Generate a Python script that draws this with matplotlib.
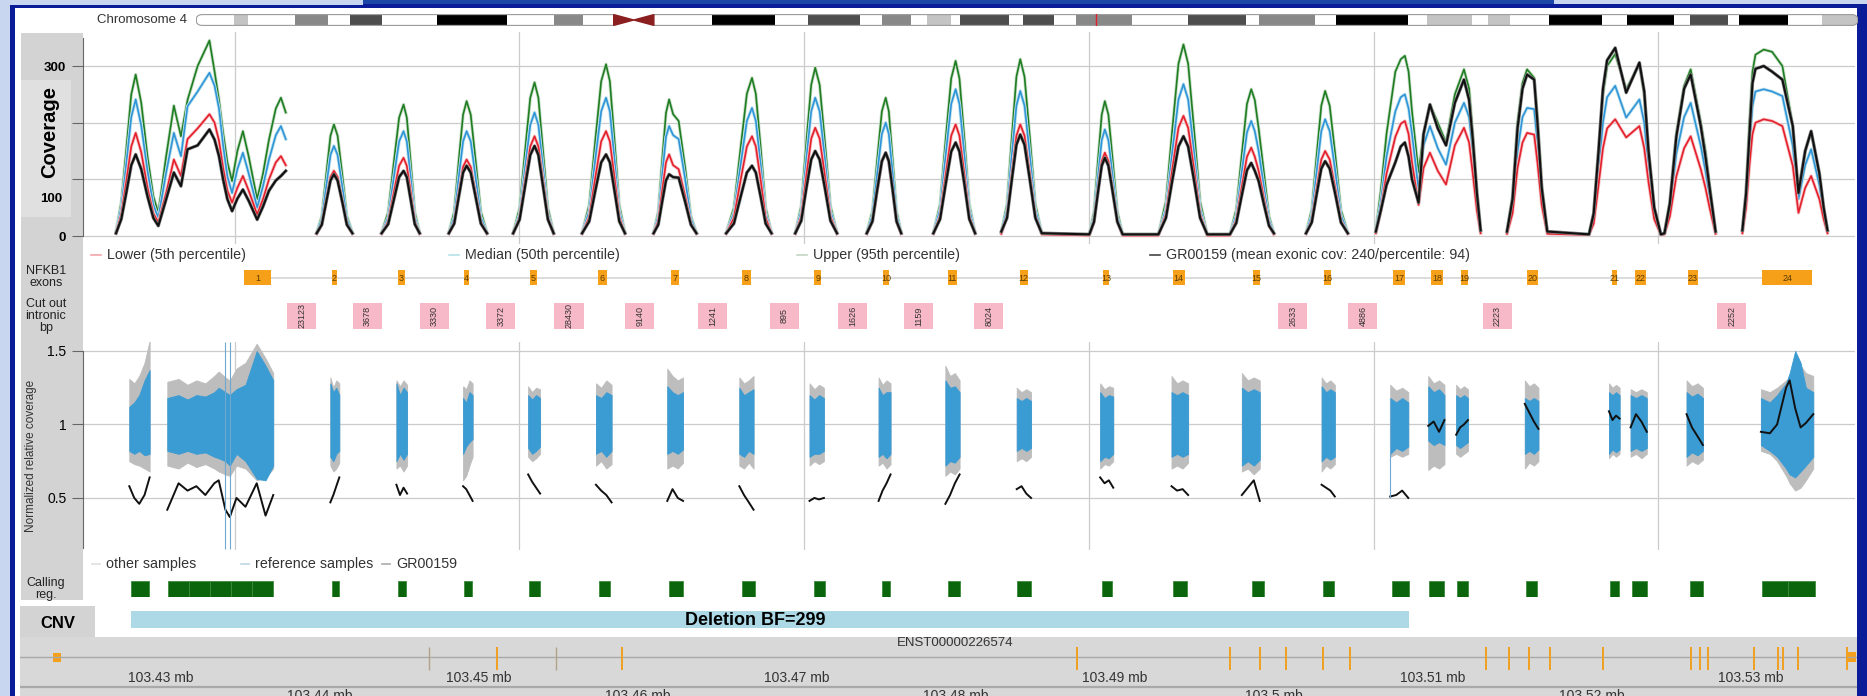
import matplotlib
matplotlib.use('Agg')
import matplotlib.pyplot as plt
from matplotlib.patches import Rectangle, Polygon, FancyBboxPatch

W, H = 1867, 696
plt.rcParams['font.family'] = ['Liberation Sans', 'DejaVu Sans']

# ---------------- chromosome 4 ideogram (Mb) ----------------
chrom_len = 190.2
band_start = [4.35, 11.3, 17.6, 27.6, 41.0, 59.1, 70.0, 78.5, 83.7, 87.4, 94.6, 100.7,
              113.5, 121.6, 130.5, 140.9, 147.9, 154.8, 163.8, 171.0, 176.6, 186.1]
band_end = [5.95, 15.1, 21.3, 35.6, 44.3, 66.3, 76.0, 81.8, 86.4, 93.0, 98.2, 107.1,
            120.2, 128.1, 138.7, 146.0, 150.4, 160.9, 169.1, 175.3, 182.2, 190.2]
band_stain = ['gpos25', 'gpos50', 'gpos75', 'gpos100', 'gpos50', 'gpos100', 'gpos75', 'gpos50',
              'gpos25', 'gpos75', 'gpos75', 'gpos50', 'gpos75', 'gpos50', 'gpos100', 'gpos25',
              'gpos25', 'gpos100', 'gpos100', 'gpos75', 'gpos100', 'gpos25']
centromere = [47.8, 52.4]
locus_mb = 103.0

# ---------------- coverage (compressed exonic coordinate, kb) ----------------
cov_x = [
    [1.168, 1.205, 1.239, 1.275, 1.306, 1.345, 1.389, 1.430, 1.465, 1.520, 1.574, 1.624, 1.670, 1.741, 1.824,
     1.860, 1.891, 1.920, 1.950, 1.983, 2.020, 2.059, 2.100, 2.159, 2.200, 2.242, 2.290, 2.326, 2.360],
    [2.577, 2.613, 2.644, 2.674, 2.698, 2.724, 2.757, 2.789, 2.828],
    [3.033, 3.079, 3.118, 3.156, 3.187, 3.210, 3.238, 3.266, 3.300],
    [3.505, 3.543, 3.574, 3.605, 3.630, 3.659, 3.694, 3.730, 3.773],
    [3.957, 4.002, 4.040, 4.077, 4.107, 4.134, 4.167, 4.201, 4.241],
    [4.441, 4.491, 4.533, 4.575, 4.609, 4.636, 4.669, 4.702, 4.742],
    [4.943, 4.976, 5.003, 5.030, 5.052, 5.080, 5.119, 5.165, 5.205, 5.244],
    [5.453, 5.507, 5.553, 5.598, 5.634, 5.661, 5.696, 5.730, 5.771],
    [5.938, 5.980, 6.015, 6.050, 6.078, 6.109, 6.147, 6.185, 6.231],
    [6.440, 6.480, 6.513, 6.546, 6.573, 6.595, 6.622, 6.649, 6.682],
    [6.908, 6.955, 6.994, 7.033, 7.064, 7.091, 7.126, 7.160, 7.201],
    [7.385, 7.425, 7.458, 7.491, 7.518, 7.548, 7.586, 7.624, 7.669,
     8.003, 8.036, 8.063, 8.090, 8.112, 8.137, 8.168, 8.200, 8.237,
     8.488, 8.541, 8.585, 8.629, 8.664, 8.697, 8.739, 8.781, 8.831,
     8.990, 9.035, 9.073, 9.110, 9.140, 9.165, 9.192, 9.230, 9.265, 9.299],
    [9.525, 9.565, 9.599, 9.632, 9.659, 9.691, 9.731, 9.770, 9.818],
    [10.015, 10.050, 10.090, 10.152, 10.190, 10.219, 10.245, 10.269, 10.315, 10.350, 10.395, 10.450,
     10.508, 10.570, 10.634, 10.670, 10.696, 10.725, 10.751],
    [10.936, 10.975, 11.010, 11.045, 11.077, 11.127, 11.150, 11.180, 11.219,
     11.512, 11.545, 11.579, 11.610, 11.639, 11.696, 11.773, 11.866, 11.900, 11.930, 11.970, 12.017,
     12.042, 12.080, 12.125, 12.180, 12.226, 12.297, 12.330, 12.359, 12.401],
    [12.589, 12.615, 12.639, 12.660, 12.681, 12.739, 12.798, 12.870, 12.943, 12.983, 13.030, 13.072,
     13.130, 13.160, 13.187],
]
cov_upper = [
    [8, 60, 150, 250, 285, 235, 140, 70, 41, 141, 230, 176, 240, 300, 345, 290, 240, 182, 130, 97, 150, 185,
     140, 65, 110, 170, 225, 244, 218],
    [6, 35, 108, 177, 197, 177, 108, 35, 6],
    [6, 42, 128, 209, 232, 209, 128, 42, 6],
    [6, 43, 131, 214, 238, 214, 131, 43, 6],
    [6, 49, 149, 244, 271, 244, 149, 49, 6],
    [6, 55, 167, 273, 303, 273, 167, 55, 6],
    [6, 43, 133, 217, 241, 215, 203, 120, 35, 6],
    [6, 50, 153, 251, 279, 251, 153, 50, 6],
    [6, 53, 163, 267, 297, 267, 163, 53, 6],
    [6, 44, 134, 220, 244, 220, 134, 44, 6],
    [6, 56, 170, 278, 309, 278, 170, 56, 6],
    [8, 56, 172, 281, 312, 281, 172, 56, 5, 3, 43, 131, 214, 238, 214, 131, 43, 3,
     3, 61, 186, 304, 338, 304, 186, 61, 3, 3, 47, 142, 233, 259, 240, 190, 110, 35, 5],
    [6, 46, 141, 230, 256, 230, 141, 46, 6],
    [10, 80, 180, 290, 312, 318, 290, 220, 112, 180, 232, 200, 165, 250, 294, 260, 180, 80, 10],
    [8, 70, 200, 270, 294, 279, 210, 90, 8, 3, 40, 150, 250, 300, 321, 259, 303, 250, 150, 50, 3,
     5, 60, 180, 265, 294, 200, 150, 90, 8],
    [10, 80, 200, 290, 320, 329, 325, 300, 194, 76, 150, 185, 110, 50, 10],
]
cov_median = [
    [7, 50, 125, 210, 241, 195, 115, 55, 32, 112, 182, 141, 229, 255, 288, 265, 225, 160, 105, 76, 118, 147,
     110, 50, 88, 135, 178, 194, 171],
    [5, 29, 87, 143, 159, 143, 87, 29, 5],
    [5, 33, 102, 167, 185, 167, 102, 33, 5],
    [5, 33, 102, 167, 185, 167, 102, 33, 5],
    [5, 39, 120, 196, 218, 196, 120, 39, 5],
    [5, 44, 134, 220, 244, 220, 134, 44, 5],
    [5, 35, 107, 175, 194, 178, 171, 100, 30, 5],
    [5, 41, 124, 203, 226, 203, 124, 41, 5],
    [5, 44, 134, 220, 244, 220, 134, 44, 5],
    [5, 36, 110, 180, 200, 180, 110, 36, 5],
    [5, 47, 142, 233, 259, 233, 142, 47, 5],
    [6, 46, 141, 230, 256, 230, 141, 46, 4, 2, 34, 103, 169, 188, 169, 103, 34, 2,
     2, 48, 147, 241, 268, 241, 147, 48, 2, 2, 37, 112, 183, 203, 185, 150, 85, 28, 4],
    [5, 37, 113, 185, 206, 185, 113, 37, 5],
    [8, 60, 140, 220, 245, 250, 225, 180, 82, 160, 194, 155, 126, 200, 235, 210, 150, 65, 8],
    [6, 50, 150, 210, 226, 224, 165, 70, 6, 3, 30, 120, 200, 245, 265, 209, 241, 200, 120, 40, 3,
     4, 48, 145, 210, 235, 159, 115, 70, 6],
    [8, 65, 160, 230, 255, 259, 255, 247, 159, 65, 125, 153, 90, 40, 8],
]
cov_lower = [
    [5, 38, 95, 158, 182, 148, 85, 40, 24, 76, 135, 106, 171, 190, 215, 200, 168, 120, 80, 59, 85, 106,
     80, 38, 65, 100, 130, 141, 125],
    [4, 21, 63, 104, 115, 104, 63, 21, 4],
    [4, 25, 76, 124, 138, 124, 76, 25, 4],
    [4, 24, 74, 122, 135, 122, 74, 24, 4],
    [4, 32, 97, 158, 176, 158, 97, 32, 4],
    [4, 33, 102, 167, 185, 167, 102, 33, 4],
    [4, 26, 79, 130, 144, 125, 118, 70, 22, 4],
    [4, 32, 97, 158, 176, 158, 97, 32, 4],
    [4, 34, 105, 172, 191, 172, 105, 34, 4],
    [4, 26, 81, 132, 147, 132, 81, 26, 4],
    [4, 35, 108, 177, 197, 177, 108, 35, 4],
    [4, 35, 108, 177, 197, 177, 108, 35, 3, 1, 26, 81, 132, 147, 132, 81, 26, 1,
     1, 38, 117, 191, 212, 191, 117, 38, 1, 1, 28, 86, 140, 156, 140, 115, 65, 20, 3],
    [4, 27, 83, 135, 150, 135, 83, 27, 4],
    [5, 45, 110, 175, 198, 203, 180, 130, 55, 120, 147, 115, 91, 160, 191, 165, 110, 45, 5],
    [4, 40, 120, 165, 182, 179, 130, 55, 4, 2, 22, 90, 155, 190, 206, 174, 194, 155, 95, 30, 2,
     3, 35, 105, 155, 176, 118, 85, 50, 4],
    [5, 50, 125, 180, 200, 206, 203, 194, 124, 41, 85, 106, 65, 30, 5],
]
cov_sample = [
    [5, 30, 75, 125, 144, 118, 70, 32, 18, 65, 112, 88, 153, 160, 188, 170, 141, 100, 65, 44, 66, 82,
     62, 29, 52, 80, 98, 106, 115],
    [5, 20, 60, 98, 109, 98, 60, 20, 5],
    [5, 21, 63, 104, 115, 104, 63, 21, 5],
    [5, 22, 68, 112, 124, 112, 68, 22, 5],
    [5, 29, 87, 143, 159, 143, 87, 29, 5],
    [5, 26, 79, 130, 144, 130, 79, 26, 5],
    [5, 20, 60, 98, 109, 104, 103, 60, 20, 5],
    [5, 22, 68, 112, 124, 112, 68, 22, 5],
    [5, 27, 83, 135, 150, 135, 83, 27, 5],
    [5, 26, 81, 132, 147, 132, 81, 26, 5],
    [5, 30, 91, 149, 165, 149, 91, 30, 5],
    [8, 32, 98, 161, 179, 161, 98, 32, 5, 3, 25, 76, 124, 138, 124, 76, 25, 3,
     3, 32, 97, 158, 176, 158, 97, 32, 3, 3, 23, 71, 116, 129, 115, 97, 55, 18, 5],
    [5, 24, 73, 119, 132, 119, 73, 24, 5],
    [8, 45, 90, 130, 158, 165, 140, 100, 59, 180, 232, 190, 160, 235, 276, 240, 170, 75, 10],
    [8, 65, 190, 260, 285, 276, 200, 85, 8, 3, 40, 150, 260, 310, 332, 253, 306, 255, 150, 50, 3,
     5, 58, 175, 260, 285, 194, 140, 85, 8],
    [10, 75, 180, 270, 295, 300, 290, 276, 194, 76, 150, 185, 110, 50, 10],
]
cov_series = ['Lower (5th percentile)', 'Median (50th percentile)', 'Upper (95th percentile)',
              'GR00159 (mean exonic cov: 240/percentile: 94)']

# ---------------- exons and removed introns ----------------
exon_num = list(range(1, 25))
exon_mid = [2.163, 2.702, 3.171, 3.630, 4.099, 4.584, 5.094, 5.595, 6.097, 6.574, 7.042, 7.543,
            8.120, 8.630, 9.174, 9.676, 10.177, 10.445, 10.637, 11.114, 11.691, 11.875, 12.242, 12.903]
exon_len = [0.192, 0.035, 0.05, 0.03, 0.05, 0.06, 0.06, 0.06, 0.05, 0.045, 0.06, 0.06,
            0.045, 0.085, 0.05, 0.045, 0.085, 0.085, 0.05, 0.075, 0.035, 0.075, 0.07, 0.351]
intron_bp = [23123, 3678, 3330, 3372, 28430, 9140, 1241, 895, 1626, 1159, 8024, 2633, 4886, 2223, 2252]
intron_mid = [2.473, 2.931, 3.404, 3.871, 4.349, 4.845, 5.357, 5.862, 6.342, 6.805, 7.298,
              9.433, 9.924, 10.868, 12.515]

# ---------------- normalized relative coverage ----------------
norm_x = [
    [1.261, 1.296, 1.331, 1.368, 1.404],
    [1.528, 1.607, 1.670, 1.732, 1.795, 1.858, 1.889, 1.936, 1.967, 2.014, 2.077, 2.156, 2.218, 2.272],
    [2.673, 2.694, 2.715, 2.736],
    [3.137, 3.162, 3.187, 3.212],
    [3.605, 3.627, 3.650, 3.672],
    [4.062, 4.090, 4.118, 4.146],
    [4.538, 4.575, 4.611, 4.648],
    [5.039, 5.076, 5.113, 5.150],
    [5.545, 5.578, 5.612, 5.645],
    [6.038, 6.072, 6.105, 6.139],
    [6.523, 6.551, 6.579, 6.607],
    [6.992, 7.025, 7.059, 7.092],
    [7.493, 7.527, 7.560, 7.594],
    [8.079, 8.110, 8.140, 8.171],
    [8.580, 8.619, 8.658, 8.697],
    [9.074, 9.116, 9.158, 9.200],
    [9.634, 9.665, 9.696, 9.727],
    [10.116, 10.158, 10.200, 10.243],
    [10.383, 10.421, 10.459, 10.497],
    [10.579, 10.607, 10.634, 10.662],
    [11.061, 11.093, 11.125, 11.157],
    [11.652, 11.677, 11.702, 11.727],
    [11.804, 11.842, 11.880, 11.918],
    [12.197, 12.235, 12.274, 12.312],
    [12.719, 12.782, 12.833, 12.896, 12.921, 12.960, 12.998, 13.035, 13.087],
]
other_hi = [
    [1.31, 1.28, 1.33, 1.42, 1.57],
    [1.29, 1.31, 1.27, 1.30, 1.28, 1.33, 1.36, 1.32, 1.30, 1.38, 1.42, 1.55, 1.45, 1.35],
    [1.32, 1.25, 1.30, 1.28], [1.30, 1.26, 1.30, 1.27], [1.26, 1.24, 1.30, 1.28],
    [1.26, 1.22, 1.25, 1.24], [1.28, 1.25, 1.30, 1.27], [1.38, 1.33, 1.30, 1.32],
    [1.32, 1.28, 1.30, 1.33], [1.28, 1.24, 1.27, 1.25], [1.32, 1.27, 1.30, 1.28],
    [1.40, 1.33, 1.35, 1.30], [1.25, 1.22, 1.24, 1.22], [1.28, 1.24, 1.26, 1.25],
    [1.33, 1.28, 1.30, 1.28], [1.35, 1.30, 1.32, 1.30], [1.32, 1.28, 1.30, 1.27],
    [1.27, 1.23, 1.25, 1.22], [1.33, 1.28, 1.30, 1.27], [1.27, 1.24, 1.26, 1.24],
    [1.30, 1.26, 1.28, 1.25], [1.28, 1.25, 1.27, 1.25], [1.24, 1.22, 1.24, 1.22],
    [1.30, 1.26, 1.28, 1.25],
    [1.24, 1.22, 1.25, 1.30, 1.32, 1.38, 1.40, 1.35, 1.33],
]
other_lo = [
    [0.75, 0.73, 0.72, 0.70, 0.68],
    [0.72, 0.70, 0.74, 0.71, 0.73, 0.70, 0.68, 0.66, 0.65, 0.72, 0.70, 0.62, 0.64, 0.70],
    [0.72, 0.68, 0.70, 0.74], [0.70, 0.72, 0.68, 0.72], [0.62, 0.65, 0.72, 0.78],
    [0.78, 0.75, 0.77, 0.80], [0.72, 0.75, 0.70, 0.73], [0.70, 0.72, 0.70, 0.74],
    [0.72, 0.70, 0.74, 0.70], [0.72, 0.75, 0.73, 0.75], [0.72, 0.74, 0.70, 0.73],
    [0.65, 0.68, 0.66, 0.70], [0.75, 0.77, 0.75, 0.78], [0.70, 0.73, 0.72, 0.75],
    [0.70, 0.72, 0.70, 0.74], [0.68, 0.70, 0.66, 0.70], [0.68, 0.72, 0.70, 0.73],
    [0.78, 0.80, 0.78, 0.80], [0.69, 0.72, 0.70, 0.73], [0.80, 0.78, 0.80, 0.82],
    [0.70, 0.74, 0.72, 0.75], [0.77, 0.80, 0.78, 0.80], [0.78, 0.80, 0.77, 0.80],
    [0.72, 0.75, 0.73, 0.76],
    [0.82, 0.80, 0.75, 0.65, 0.60, 0.55, 0.57, 0.62, 0.70],
]
ref_hi = [
    [1.12, 1.15, 1.20, 1.30, 1.37],
    [1.18, 1.20, 1.17, 1.20, 1.19, 1.22, 1.25, 1.22, 1.20, 1.24, 1.27, 1.50, 1.40, 1.30],
    [1.28, 1.22, 1.25, 1.20], [1.28, 1.20, 1.25, 1.22], [1.18, 1.15, 1.22, 1.20],
    [1.20, 1.17, 1.20, 1.18], [1.20, 1.18, 1.22, 1.20], [1.26, 1.22, 1.20, 1.22],
    [1.25, 1.20, 1.22, 1.24], [1.20, 1.17, 1.20, 1.18], [1.25, 1.20, 1.22, 1.22],
    [1.30, 1.25, 1.26, 1.22], [1.18, 1.16, 1.18, 1.16], [1.22, 1.18, 1.20, 1.19],
    [1.22, 1.20, 1.22, 1.20], [1.25, 1.22, 1.24, 1.22], [1.26, 1.22, 1.24, 1.22],
    [1.18, 1.15, 1.18, 1.15], [1.26, 1.22, 1.24, 1.20], [1.20, 1.18, 1.20, 1.18],
    [1.18, 1.16, 1.18, 1.16], [1.22, 1.20, 1.22, 1.20], [1.20, 1.18, 1.20, 1.18],
    [1.22, 1.19, 1.21, 1.18],
    [1.18, 1.15, 1.20, 1.28, 1.35, 1.50, 1.42, 1.25, 1.22],
]
ref_lo = [
    [0.82, 0.80, 0.82, 0.79, 0.80],
    [0.82, 0.80, 0.82, 0.80, 0.81, 0.78, 0.77, 0.75, 0.72, 0.80, 0.75, 0.63, 0.62, 0.72],
    [0.78, 0.75, 0.80, 0.82], [0.75, 0.80, 0.76, 0.80], [0.80, 0.85, 0.88, 0.90],
    [0.84, 0.80, 0.82, 0.85], [0.80, 0.82, 0.78, 0.82], [0.80, 0.82, 0.80, 0.83],
    [0.80, 0.78, 0.82, 0.80], [0.78, 0.80, 0.80, 0.82], [0.78, 0.80, 0.77, 0.80],
    [0.72, 0.75, 0.74, 0.78], [0.82, 0.84, 0.82, 0.84], [0.75, 0.78, 0.77, 0.80],
    [0.78, 0.80, 0.78, 0.80], [0.72, 0.75, 0.72, 0.76], [0.75, 0.78, 0.76, 0.78],
    [0.80, 0.84, 0.82, 0.85], [0.89, 0.86, 0.88, 0.86], [0.86, 0.84, 0.86, 0.88],
    [0.80, 0.82, 0.80, 0.83], [0.80, 0.83, 0.81, 0.83], [0.82, 0.84, 0.82, 0.84],
    [0.78, 0.81, 0.79, 0.82],
    [0.86, 0.82, 0.78, 0.70, 0.66, 0.64, 0.68, 0.72, 0.78],
]
sample_norm = [
    [0.58, 0.50, 0.46, 0.52, 0.64],
    [0.42, 0.60, 0.55, 0.58, 0.52, 0.60, 0.62, 0.42, 0.37, 0.50, 0.44, 0.60, 0.38, 0.52],
    [0.47, 0.52, 0.58, 0.64], [0.59, 0.52, 0.57, 0.53], [0.58, 0.56, 0.52, 0.48],
    [0.66, 0.61, 0.57, 0.53], [0.59, 0.55, 0.52, 0.47], [0.48, 0.56, 0.50, 0.48],
    [0.58, 0.52, 0.47, 0.42], [0.48, 0.50, 0.49, 0.50], [0.48, 0.55, 0.60, 0.66],
    [0.46, 0.52, 0.60, 0.66], [0.56, 0.58, 0.53, 0.50], [0.64, 0.60, 0.62, 0.57],
    [0.58, 0.55, 0.56, 0.52], [0.52, 0.57, 0.62, 0.48], [0.59, 0.57, 0.55, 0.51],
    [0.51, 0.52, 0.55, 0.50], [0.99, 1.02, 0.95, 1.03], [0.93, 0.98, 1.00, 1.03],
    [1.14, 1.08, 1.02, 0.97], [1.09, 1.03, 1.06, 1.04], [0.98, 1.07, 1.02, 0.95],
    [1.07, 0.98, 0.92, 0.86],
    [0.95, 0.94, 1.00, 1.25, 1.30, 1.11, 0.98, 1.01, 1.07],
]
# single outlier traces of reference samples
spike_x = [1.936, 1.967, 10.116]
spike_lo = [0.15, 0.15, 0.50]
spike_hi = [1.56, 1.56, 1.18]
norm_series = ['other samples', 'reference samples', 'GR00159']

# ---------------- calling regions and CNV call ----------------
call_start = [1.273, 1.532, 1.680, 1.827, 1.975, 2.122, 2.685, 3.149, 3.612, 4.067, 4.559, 5.051,
              5.563, 6.069, 6.546, 7.010, 7.494, 8.091, 8.590, 9.145, 9.643, 10.127, 10.387, 10.584,
              11.069, 11.658, 11.813, 12.220, 12.726, 12.909]
call_end = [1.399, 1.680, 1.827, 1.975, 2.122, 2.270, 2.734, 3.205, 3.669, 4.145, 4.636, 5.149,
            5.654, 6.146, 6.602, 7.094, 7.593, 8.161, 8.688, 9.229, 9.720, 10.247, 10.493, 10.661,
            11.146, 11.722, 11.919, 12.311, 12.909, 13.099]
cnv_start, cnv_end = 1.273, 10.247
cnv_label = 'Deletion BF=299'
cnv_label_x = 5.66

# ---------------- transcript ENST00000226574 (genomic, Mb) ----------------
tx_name = 'ENST00000226574'
tx_name_mb = 103.480
tx_exon_mb = [103.45116, 103.45902, 103.48764, 103.49727, 103.49915, 103.50079, 103.50312,
              103.50482, 103.51337, 103.51482, 103.51608, 103.51740, 103.52073, 103.52627,
              103.52683, 103.52734, 103.53023, 103.53174, 103.53205, 103.53300]
tx_first_mb = [103.42325, 103.42375]
tx_last_mb = [103.53610, 103.53665]
tx_other_mb = [103.44688, 103.45487]
upper_ticks = [103.43, 103.45, 103.47, 103.49, 103.51, 103.53]
lower_ticks = [103.44, 103.46, 103.48, 103.50, 103.52]
lower_tick_labels = ['103.44 mb', '103.46 mb', '103.48 mb', '103.5 mb', '103.52 mb']

grid_kb = [2, 4, 6, 8, 10, 12]
xlim_kb = (0.936, 13.38)
xlim_mb = (103.42115, 103.53671)


def px_axes(fig, x0, y0, x1, y1):
    # axes placed by a pixel box (origin top-left) on the canvas
    return fig.add_axes([x0 / W, 1 - y1 / H, (x1 - x0) / W, (y1 - y0) / H])


def bare(ax):
    ax.set_xticks([])
    ax.set_yticks([])
    for s in ax.spines.values():
        s.set_visible(False)
    ax.patch.set_alpha(0)


fig = plt.figure(figsize=(W / 100, H / 100), dpi=100)
fig.patch.set_facecolor('#0b1c98')

# slide frame, white panel and grey label column
bg = fig.add_axes([0, 0, 1, 1])
bg.set_xlim(0, W)
bg.set_ylim(H, 0)
bare(bg)
bg.add_patch(Rectangle((0, 0), 10, H, color='#c9d6ef', lw=0))
bg.add_patch(Rectangle((0, 0), 363, 5, color='#c9d6ef', lw=0))
bg.add_patch(Rectangle((1554, 0), W - 1554, 4, color='#c9d6ef', lw=0))
bg.add_patch(Rectangle((363, 0), 1191, 4, color='#1d47a6', lw=0))
bg.add_patch(Rectangle((15, 8), 1842, H - 8, color='white', lw=0))
bg.add_patch(Rectangle((21, 33), 62, 567, color='#d3d3d3', lw=0))
bg.add_patch(Rectangle((21, 80), 50, 137, color='#e0e0e0', lw=0))
bg.add_patch(Rectangle((20, 606), 75, 32, color='#d3d3d3', lw=0))

bg.text(187, 20, 'Chromosome 4', ha='right', va='center', fontsize=9.5, color='#333333')
bg.text(50, 132, 'Coverage', rotation=90, ha='center', va='center', fontsize=14.5, fontweight='bold')
bg.text(62, 199, '100', ha='right', va='center', fontsize=9.5, fontweight='bold')
bg.text(31, 456, 'Normalized relative coverage', rotation=90, ha='center', va='center', fontsize=8.5,
        color='#333333')
bg.text(46, 277, 'NFKB1\nexons', ha='center', va='center', fontsize=9, linespacing=1.05, color='#222222')
bg.text(46, 316, 'Cut out\nintronic\nbp', ha='center', va='center', fontsize=9, linespacing=1.0,
        color='#222222')
bg.text(46, 589, 'Calling\nreg.', ha='center', va='center', fontsize=9, linespacing=1.05, color='#222222')
bg.text(58, 623, 'CNV', ha='center', va='center', fontsize=12, fontweight='bold')

# legend rows
leg1_x = [91, 449, 797, 1150]
leg1_col = ['#f3a6ad', '#b8e2ea', '#c5d6c5', '#444444']
for x0, c, lab in zip(leg1_x, leg1_col, cov_series):
    bg.plot([x0, x0 + 10], [255, 255], color=c, lw=1.2)
    bg.text(x0 + 16, 255, lab, ha='left', va='center', fontsize=10.3, color='#333333')
leg2_x = [92, 241, 382]
leg2_col = ['#e0e0e0', '#bcd8e4', '#aaaaaa']
for x0, c, lab in zip(leg2_x, leg2_col, norm_series):
    bg.plot([x0, x0 + 8], [564, 564], color=c, lw=1.2)
    bg.text(x0 + 14, 564, lab, ha='left', va='center', fontsize=10.3, color='#333333')

# chromosome ideogram
ax_id = px_axes(fig, 196, 14, 1858, 26)
bare(ax_id)
ax_id.set_xlim(0, chrom_len)
ax_id.set_ylim(0, 1)
stain_col = {'gpos25': '#c4c4c4', 'gpos50': '#888888', 'gpos75': '#4e4e4e', 'gpos100': '#000000'}
body = FancyBboxPatch((0, 0.05), chrom_len, 0.9, boxstyle='round,pad=0,rounding_size=0.69',
                      mutation_aspect=0.73, facecolor='white', edgecolor='none')
ax_id.add_patch(body)
for s, e, st in zip(band_start, band_end, band_stain):
    r = Rectangle((s, 0.05), e - s, 0.9, color=stain_col[st], lw=0)
    ax_id.add_patch(r)
    r.set_clip_path(body)
ax_id.add_patch(Rectangle((centromere[0], 0), centromere[1] - centromere[0], 1, color='white', lw=0, zorder=3))
cmid = (centromere[0] + centromere[1]) / 2
ax_id.add_patch(Polygon([(centromere[0], 0.95), (centromere[0], 0.05), (cmid, 0.5)], color='#8b1e1e', zorder=4))
ax_id.add_patch(Polygon([(centromere[1], 0.95), (centromere[1], 0.05), (cmid, 0.5)], color='#8b1e1e', zorder=4))
ax_id.add_patch(FancyBboxPatch((0, 0.05), chrom_len, 0.9, boxstyle='round,pad=0,rounding_size=0.69',
                               mutation_aspect=0.73, facecolor='none', edgecolor='#9a9a9a', lw=0.8, zorder=2))
ax_id.plot([locus_mb, locus_mb], [0, 1], color='#e0202a', lw=1, zorder=5)

# coverage panel
ax_c = px_axes(fig, 83, 32, 1855, 244)
ax_c.set_xlim(*xlim_kb)
ax_c.set_ylim(-14, 360)
ax_c.patch.set_alpha(0)
for side in ['top', 'right', 'bottom']:
    ax_c.spines[side].set_visible(False)
ax_c.spines['left'].set_bounds(0, 350)
ax_c.spines['left'].set_color('#666666')
ax_c.set_yticks([0, 100, 200, 300])
ax_c.set_yticklabels(['0', '', '', '300'], fontsize=9.5, fontweight='bold')
ax_c.set_xticks(grid_kb)
ax_c.tick_params(axis='x', length=0, labelbottom=False)
ax_c.tick_params(axis='y', length=8, color='#666666', pad=4)
ax_c.grid(True, color='#cbcbcb', lw=0.9)
ax_c.set_axisbelow(True)
series_style = [(cov_upper, '#1f7d22', '#c9dec9', 1.2), (cov_median, '#2f95d8', '#bfe3ec', 1.2),
                (cov_lower, '#e3202b', '#f6c0c4', 1.2), (cov_sample, '#111111', '#888888', 1.5)]
for vals, dark, light, lw in series_style:
    for xs, ys in zip(cov_x, vals):
        ax_c.plot(xs, ys, color=light, lw=2.4, solid_joinstyle='round')
        ax_c.plot(xs, ys, color=dark, lw=lw, solid_joinstyle='round')

# exon track
ax_e = px_axes(fig, 83, 270, 1855, 285)
bare(ax_e)
ax_e.set_xlim(*xlim_kb)
ax_e.set_ylim(0, 1)
ax_e.plot([exon_mid[0], exon_mid[-1]], [0.5, 0.5], color='#d6d6d6', lw=1.2, zorder=1)
ax_e.bar(exon_mid, 1, width=exon_len, bottom=0, color='#f6a01a', zorder=2)
for m, n in zip(exon_mid, exon_num):
    ax_e.text(m, 0.45, str(n), ha='center', va='center', fontsize=6.5, color='#5a3c00', zorder=3)

# removed intron sizes
ax_i = px_axes(fig, 83, 303, 1855, 329)
bare(ax_i)
ax_i.set_xlim(*xlim_kb)
ax_i.set_ylim(0, 1)
ax_i.bar(intron_mid, 1, width=0.204, bottom=0, color='#f7b9c8')
for m, bp in zip(intron_mid, intron_bp):
    ax_i.text(m, 0.5, str(bp), rotation=90, ha='center', va='center', fontsize=6.5, color='#333333')

# normalized relative coverage
ax_n = px_axes(fig, 83, 342, 1855, 550)
ax_n.set_xlim(*xlim_kb)
ax_n.set_ylim(0.146, 1.561)
ax_n.patch.set_alpha(0)
for side in ['top', 'right', 'bottom']:
    ax_n.spines[side].set_visible(False)
ax_n.spines['left'].set_bounds(0.16, 1.5)
ax_n.spines['left'].set_color('#666666')
ax_n.set_yticks([0.5, 1, 1.5])
ax_n.set_yticklabels(['0.5', '1', '1.5'], fontsize=10)
ax_n.set_xticks(grid_kb)
ax_n.tick_params(axis='x', length=0, labelbottom=False)
ax_n.tick_params(axis='y', length=8, color='#666666', pad=4)
ax_n.grid(True, color='#cbcbcb', lw=0.9)
ax_n.set_axisbelow(True)
for xs, oh, ol, rh, rl, sm in zip(norm_x, other_hi, other_lo, ref_hi, ref_lo, sample_norm):
    ax_n.fill_between(xs, ol, oh, color='#bdbdbd', lw=0.6)
    ax_n.fill_between(xs, rl, rh, color='#3b9bd3', lw=0.6)
    ax_n.plot(xs, sm, color='#111111', lw=1.4)
ax_n.vlines(spike_x, spike_lo, spike_hi, color='#6fa8d0', lw=0.8)

# calling regions
ax_r = px_axes(fig, 83, 581, 1855, 597)
bare(ax_r)
ax_r.set_xlim(*xlim_kb)
ax_r.set_ylim(0, 1)
ax_r.broken_barh([(s, e - s) for s, e in zip(call_start, call_end)], (0, 1),
                 facecolors='#0a650c', edgecolors='#3e8a3e', lw=0.6)

# CNV call
ax_v = px_axes(fig, 83, 611, 1855, 628)
bare(ax_v)
ax_v.set_xlim(*xlim_kb)
ax_v.set_ylim(0, 1)
ax_v.broken_barh([(cnv_start, cnv_end - cnv_start)], (0, 1), facecolors='#add8e6')
ax_v.text(cnv_label_x, 0.45, cnv_label, ha='center', va='center', fontsize=13, fontweight='bold')

# transcript track with genomic axis
ax_t = px_axes(fig, 20, 637, 1857, 696)
ax_t.set_xlim(*xlim_mb)
ax_t.set_ylim(0, 1)
ax_t.set_xticks([])
ax_t.set_yticks([])
for s in ax_t.spines.values():
    s.set_visible(False)
ax_t.set_facecolor('#d8d8d8')
ax_t.axhline(0.66, color='#a9a9a9', lw=1.0)
ax_t.axhline(0.15, color='#a9a9a9', lw=1.6)
ax_t.vlines(tx_other_mb, 0.44, 0.83, color='#b0a48a', lw=1.0)
ax_t.vlines(tx_exon_mb, 0.44, 0.83, color='#f0a020', lw=1.4)
ax_t.add_patch(Rectangle((tx_first_mb[0], 0.58), tx_first_mb[1] - tx_first_mb[0], 0.15, color='#f5a01c', lw=0))
ax_t.add_patch(Rectangle((tx_last_mb[0], 0.57), tx_last_mb[1] - tx_last_mb[0], 0.17, color='#f5a01c', lw=0))
ax_t.vlines([tx_last_mb[0]], 0.44, 0.83, color='#f0a020', lw=1.4)
ax_t.text(tx_name_mb, 0.89, tx_name, ha='center', va='center', fontsize=9.5, color='#333333')
for t in upper_ticks:
    ax_t.text(t, 0.30, '%.2f mb' % t, ha='center', va='center', fontsize=10, color='#333333')
for t, lab in zip(lower_ticks, lower_tick_labels):
    ax_t.text(t, 0.12, lab, ha='center', va='top', fontsize=10, color='#333333')

fig.savefig('out.png', dpi=100, facecolor=fig.get_facecolor())
